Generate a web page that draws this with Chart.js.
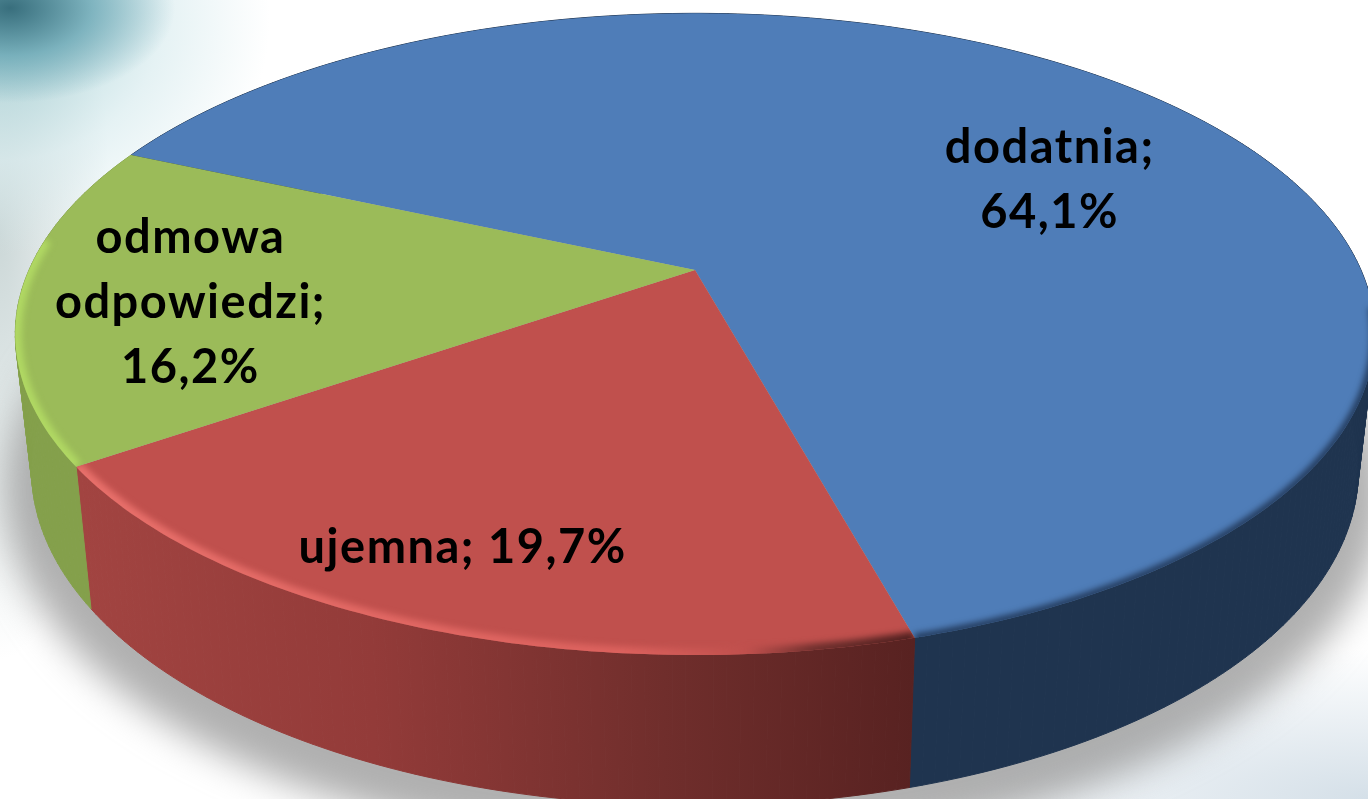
<!DOCTYPE html>
<html>
<head>
<meta charset="utf-8">
<title>Odpowiedzi</title>
<script src="https://cdn.jsdelivr.net/npm/chart.js@4"></script>
<style>
    html, body { margin: 0; padding: 0; width: 1368px; height: 799px; overflow: hidden; background: #fff; }
    #bg {
        position: absolute; left: 0; top: 0; width: 1368px; height: 799px;
        background:
            radial-gradient(ellipse 165px 95px at 10px 8px, rgba(50,105,120,0.95), rgba(95,160,175,0.7) 50%, rgba(130,190,200,0) 100%),
            radial-gradient(ellipse 270px 235px at 0px 20px, rgba(150,200,205,0.8), rgba(215,235,238,0.65) 60%, rgba(255,255,255,0) 100%),
            radial-gradient(ellipse 110px 430px at 0px 230px, rgba(190,205,205,0.8), rgba(255,255,255,0) 100%),
            radial-gradient(ellipse 480px 150px at 1368px 799px, rgba(205,218,228,0.85), rgba(255,255,255,0) 100%),
            #fff;
    }
    #odpowiedzi { position: absolute; left: 0; top: 0; }
</style>
</head>
<body>
<div id="bg"></div>
<canvas id="odpowiedzi" width="1368" height="799"></canvas>
<script>
const categories = ['dodatnia', 'ujemna', 'odmowa odpowiedzi'];
const shares = [64.1, 19.7, 16.2];
const labelLines = [
    ['dodatnia;', '64,1%'],
    ['ujemna; 19,7%'],
    ['odmowa', 'odpowiedzi;', '16,2%']
];
const topColors = ['#4f7db8', '#c0504d', '#9bbb59'];

// perspective of the disc, fitted to the picture
const view = {
    cx: 695, q: -0.2,
    top: { cy: 270, ax: 666, ay: 308 },
    bottom: { cy: 403, ax: 650, ay: 322 }
};
// label spot per slice: shift from mid angle (deg), radius as fraction
const labelSpots = [[12.1, 0.645], [1.1, 0.82], [-2.75, 0.749]];

function project(plane, angle, r) {
    const u = Math.cos(angle) * r, v = Math.sin(angle) * r;
    const w = 1 + view.q * v;
    return { x: view.cx + plane.ax * u / w, y: plane.cy + plane.ay * v / w };
}

function arcPoints(plane, start, end) {
    const pts = [];
    const steps = Math.max(8, Math.ceil((end - start) * 60));
    for (let i = 0; i <= steps; i++) {
        pts.push(project(plane, start + (end - start) * i / steps, 1));
    }
    return pts;
}

function tracePoints(ctx, pts, first) {
    pts.forEach((p, i) => {
        if (i === 0 && first) ctx.moveTo(p.x, p.y);
        else ctx.lineTo(p.x, p.y);
    });
}

function wallFill(ctx, index) {
    if (index === 1) {
        const g = ctx.createLinearGradient(82, 0, 913, 0);
        g.addColorStop(0, '#a24441');
        g.addColorStop(0.35, '#933b39');
        g.addColorStop(0.7, '#702e2c');
        g.addColorStop(1, '#582221');
        return g;
    }
    return index === 0 ? '#1f344f' : '#84a04b';
}

function rimStroke(ctx, index) {
    if (index === 1) {
        const g = ctx.createLinearGradient(82, 0, 913, 0);
        g.addColorStop(0, '#e8706b');
        g.addColorStop(0.65, '#dc625e');
        g.addColorStop(0.8, '#c0504d');
        g.addColorStop(0.88, '#70302e');
        g.addColorStop(1, '#4f201f');
        return g;
    }
    return index === 0 ? '#22395a' : '#b0d863';
}

const disc3d = {
    id: 'disc3d',
    // the pie's arcs are projected here instead of drawn flat
    beforeDatasetDraw(chart, args) {
        const ctx = chart.ctx;
        const arcs = args.meta.data;

        // soft shadow under the disc
        ctx.save();
        ctx.filter = 'blur(18px)';
        ctx.fillStyle = 'rgba(150,150,150,0.75)';
        ctx.beginPath();
        tracePoints(ctx, arcPoints({ cy: 420, ax: 676, ay: 345 }, 0, Math.PI * 2), true);
        ctx.fill();
        ctx.restore();

        // side walls, swept from top rim to bottom rim so the silhouette stays tangent
        arcs.forEach((arc, i) => {
            const topPts = arcPoints(view.top, arc.startAngle, arc.endAngle);
            const botPts = arcPoints(view.bottom, arc.startAngle, arc.endAngle);
            const fill = wallFill(ctx, i);
            ctx.fillStyle = fill;
            ctx.strokeStyle = fill;
            ctx.lineWidth = 1;
            for (let n = 0; n < topPts.length - 1; n++) {
                ctx.beginPath();
                ctx.moveTo(topPts[n].x, topPts[n].y);
                ctx.lineTo(topPts[n + 1].x, topPts[n + 1].y);
                ctx.lineTo(botPts[n + 1].x, botPts[n + 1].y);
                ctx.lineTo(botPts[n].x, botPts[n].y);
                ctx.closePath();
                ctx.fill();
                ctx.stroke();
            }
        });

        // top faces
        arcs.forEach((arc, i) => {
            ctx.beginPath();
            const c = project(view.top, 0, 0);
            ctx.moveTo(c.x, c.y);
            tracePoints(ctx, arcPoints(view.top, arc.startAngle, arc.endAngle), false);
            ctx.closePath();
            ctx.fillStyle = topColors[i];
            ctx.fill();

            // bevel along the front part of the rim only
            const from = Math.max(arc.startAngle, 0.12);
            const to = Math.min(arc.endAngle, Math.PI + 0.1);
            if (to <= from) return;
            ctx.save();
            ctx.clip();
            ctx.filter = 'blur(3px)';
            ctx.beginPath();
            tracePoints(ctx, arcPoints(view.top, from, to), true);
            ctx.strokeStyle = rimStroke(ctx, i);
            ctx.lineWidth = i === 0 ? 8 : 13;
            ctx.stroke();
            ctx.restore();
        });

        return false;
    },
    afterDatasetsDraw(chart) {
        const ctx = chart.ctx;
        const arcs = chart.getDatasetMeta(0).data;
        ctx.save();
        ctx.fillStyle = '#000';
        ctx.font = '700 47px Lato, "Open Sans", sans-serif';
        ctx.letterSpacing = '1.5px';
        ctx.textAlign = 'center';
        ctx.textBaseline = 'middle';
        arcs.forEach((arc, i) => {
            const mid = (arc.startAngle + arc.endAngle) / 2 + labelSpots[i][0] * Math.PI / 180;
            const p = project(view.top, mid, labelSpots[i][1]);
            const lines = labelLines[i];
            lines.forEach((line, n) => {
                ctx.fillText(line, p.x, p.y + (n - (lines.length - 1) / 2) * 65);
            });
        });
        ctx.restore();
    }
};

new Chart(document.getElementById('odpowiedzi').getContext('2d'), {
    type: 'pie',
    data: {
        labels: categories,
        datasets: [{ data: shares, backgroundColor: topColors, borderWidth: 0 }]
    },
    options: {
        responsive: false,
        animation: false,
        rotation: -66.2,
        plugins: {
            legend: { display: false },
            tooltip: { enabled: false }
        }
    },
    plugins: [disc3d]
});
</script>
</body>
</html>
